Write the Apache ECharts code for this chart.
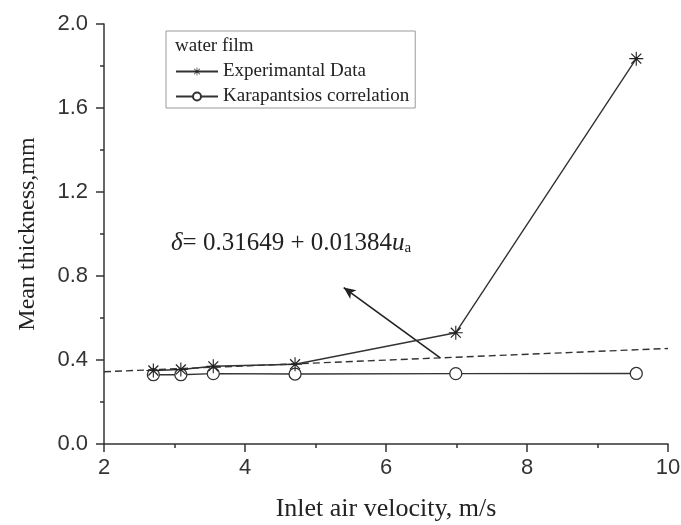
<!DOCTYPE html>
<html><head><meta charset="utf-8">
<script src="https://cdn.jsdelivr.net/npm/echarts@6/dist/echarts.min.js"></script>
<style>html,body{margin:0;padding:0;background:#fff}#c{width:681px;height:525px}</style>
</head><body><div id="c"></div>
<script>
var expX = [2.70, 3.09, 3.55, 4.71, 6.99, 9.55];
var expY = [0.350, 0.355, 0.370, 0.380, 0.530, 1.835];
var karX = [2.70, 3.09, 3.55, 4.71, 6.99, 9.55];
var karY = [0.330, 0.330, 0.335, 0.333, 0.335, 0.336];
var fitX = [2, 10];
var fitY = [0.344, 0.455];
var arrowFrom = [6.77, 0.41];
var arrowTo = [5.40, 0.745];
var seriesNames = ['Experimantal Data', 'Karapantsios correlation'];
var legendTitle = 'water film';
var xName = 'Inlet air velocity, m/s';
var yName = 'Mean thickness,mm';

function pairs(xs, ys){ return xs.map(function(x,i){return [x, ys[i]];}); }
var star = 'path://M9.2,0 L10.8,0 L10.8,20 L9.2,20 Z M0,9.2 L20,9.2 L20,10.8 L0,10.8 Z M3.5,2.3 L17.7,16.5 L16.5,17.7 L2.3,3.5 Z M16.5,2.3 L17.7,3.5 L3.5,17.7 L2.3,16.5 Z';
var serif = '"Liberation Serif","Times New Roman",serif';
var sans = '"Liberation Sans",Arial,sans-serif';

var chart = echarts.init(document.getElementById('c'), null, {renderer:'canvas'});
chart.setOption({
  animation:false,
  backgroundColor:'#fff',
  grid:{left:104, right:13, top:24, bottom:81, outerBoundsMode:'none', containLabel:false},
  xAxis:{type:'value', min:2, max:10, interval:2,
    name:xName, nameLocation:'middle', nameGap:52,
    nameTextStyle:{fontFamily:serif, fontSize:26, color:'#222'},
    axisLine:{lineStyle:{color:'#333', width:1.5}},
    axisTick:{inside:false, length:8, lineStyle:{color:'#333', width:1.5}},
    minorTick:{show:true, splitNumber:2, length:4, lineStyle:{color:'#333', width:1.5}},
    axisLabel:{fontFamily:sans, fontSize:22, color:'#333', margin:13},
    splitLine:{show:false}, minorSplitLine:{show:false}},
  yAxis:{type:'value', min:0, max:2.0, interval:0.4,
    name:yName, nameLocation:'middle', nameGap:64, nameRotate:90,
    nameTextStyle:{fontFamily:serif, fontSize:24, color:'#222'},
    axisLine:{show:true, lineStyle:{color:'#333', width:1.5}},
    axisTick:{show:true, length:8, lineStyle:{color:'#333', width:1.5}},
    minorTick:{show:true, splitNumber:2, length:4, lineStyle:{color:'#333', width:1.5}},
    axisLabel:{fontFamily:sans, fontSize:22, color:'#333', margin:16,
      formatter:function(v){return v.toFixed(1);}},
    splitLine:{show:false}, minorSplitLine:{show:false}},
  legend:{orient:'vertical', left:166, top:31,
    padding:[31, 6, 2, 9], itemGap:6, itemWidth:42, itemHeight:10,
    backgroundColor:'#fff', borderColor:'#999', borderWidth:1,
    textStyle:{fontFamily:serif, fontSize:19, color:'#222'},
    data:seriesNames},
  graphic:[
    {type:'text', left:175, top:37, z:100, style:{text:legendTitle, font:'19px '+serif, fill:'#222'}},
    {type:'text', left:171, top:231, z:100, style:{
      text:'{i|δ}{n|= 0.31649 + 0.01384}{i|u}{s|a}',
      rich:{
        i:{fontFamily:serif, fontStyle:'italic', fontSize:25, fill:'#222', verticalAlign:'bottom'},
        n:{fontFamily:serif, fontSize:25, fill:'#222', verticalAlign:'bottom'},
        s:{fontFamily:serif, fontSize:15, fill:'#222', padding:[12,0,0,0], verticalAlign:'bottom'}
      }}}
  ],
  series:[
    {name:seriesNames[0], type:'line', data:pairs(expX, expY),
      symbol:star, symbolSize:14, showAllSymbol:true,
      lineStyle:{color:'#333', width:1.4}, itemStyle:{color:'#222', borderWidth:0},
      z:5},
    {name:seriesNames[1], type:'line', data:pairs(karX, karY),
      symbol:'circle', symbolSize:12,
      lineStyle:{color:'#333', width:1.4}, itemStyle:{color:'#fff', borderColor:'#333', borderWidth:1.3},
      z:4},
    {name:'fit', type:'line', data:pairs(fitX, fitY), symbol:'none',
      lineStyle:{color:'#333', width:1.4, type:[7,4]}, z:3,
      markLine:{silent:true, symbol:['none','arrow'], symbolSize:[8,12],
        label:{show:false}, lineStyle:{color:'#222', width:1.6, type:'solid'},
        data:[[{coord:arrowFrom},{coord:arrowTo}]]}}
  ]
});
</script></body></html>
